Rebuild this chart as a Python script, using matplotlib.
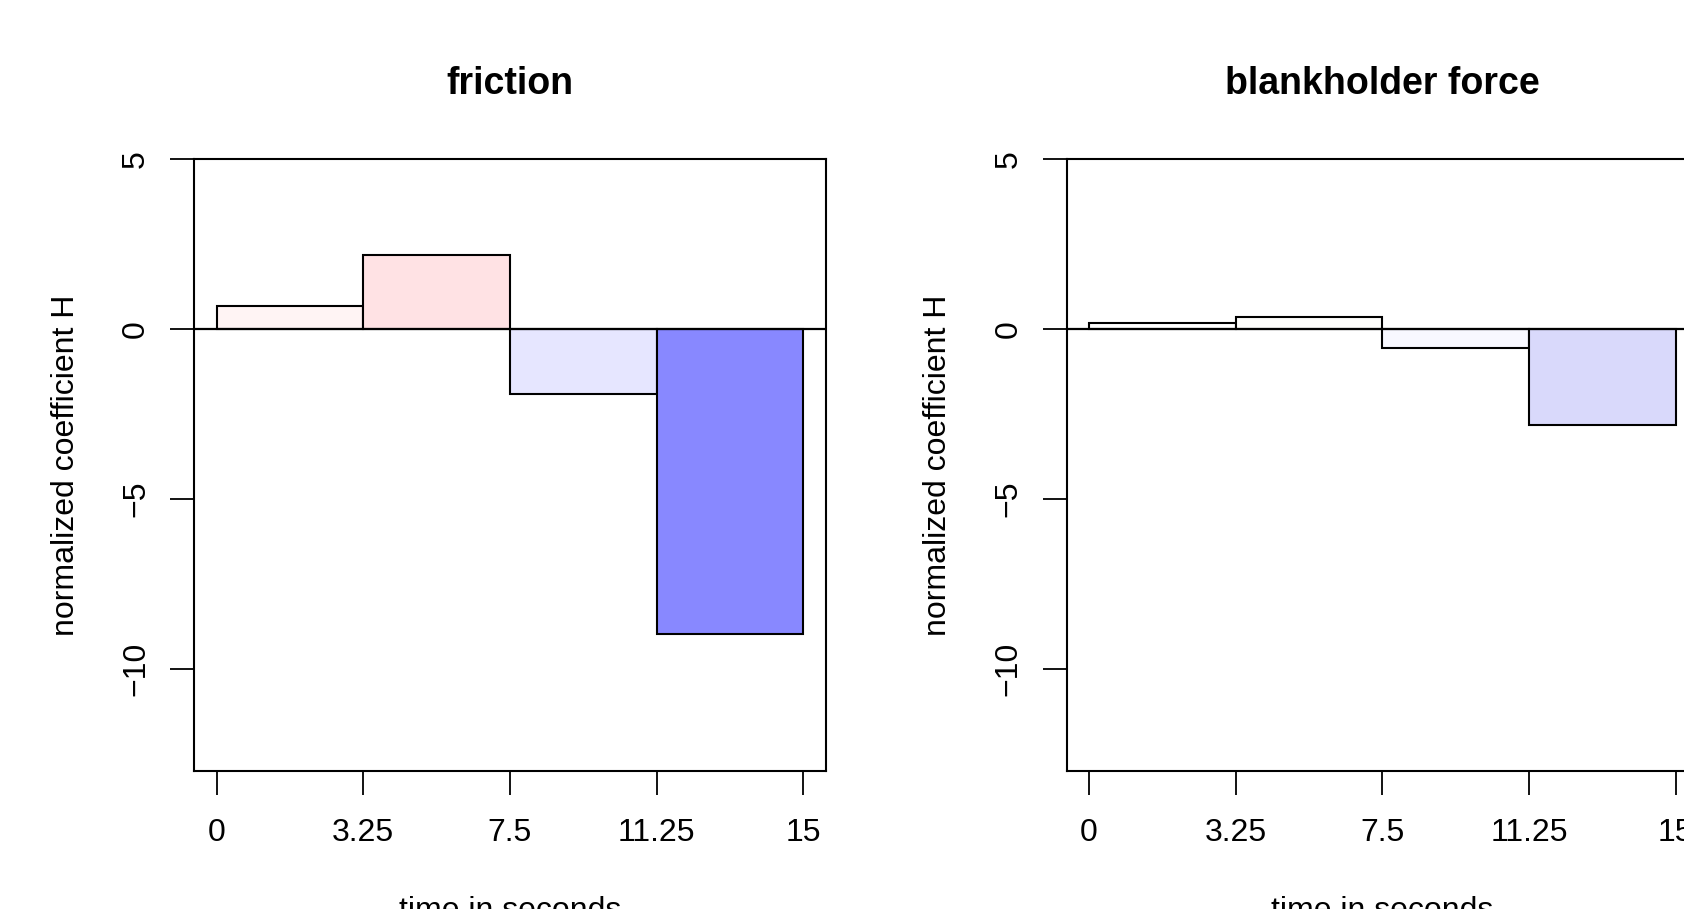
import matplotlib
matplotlib.use("Agg")
import matplotlib.pyplot as plt

plt.rcParams['font.family'] = ['Liberation Sans', 'DejaVu Sans']

# data
titles = ['friction', 'blankholder force']
bar_left = [0, 3.75, 7.5, 11.25]
bar_width = 3.75
friction = [0.68, 2.19, -1.90, -8.97]
blankholder = [0.17, 0.36, -0.56, -2.83]
friction_cols = ['#FFF4F4', '#FFE2E4', '#E6E6FF', '#8888FF']
blankholder_cols = ['#FFFFFF', '#FDFDFB', '#F8F8FF', '#D9D9FB']
xtick_pos = [0, 3.75, 7.5, 11.25, 15]
xtick_labels = ['0', '3.25', '7.5', '11.25', '15']
ytick_pos = [5, 0, -5, -10]
ytick_labels = ['5', '0', '\u22125', '\u221210']

fig = plt.figure(figsize=(16.84, 9.09), dpi=100)
W = 632 / 1684
H = (771 - 159) / 909
bottom = 1 - 771 / 909
ax1 = fig.add_axes([194 / 1684, bottom, W, H])
ax2 = fig.add_axes([1066.5 / 1684, bottom, W, H])

for ax, title, vals, cols in [(ax1, titles[0], friction, friction_cols),
                              (ax2, titles[1], blankholder, blankholder_cols)]:
    ax.bar(bar_left, vals, width=bar_width, align='edge', color=cols,
           edgecolor='black', linewidth=1.5, zorder=2)
    ax.axhline(0, color='black', linewidth=1.6, zorder=3)
    ax.set_xlim(-0.577, 15.58)
    ax.set_ylim(-13, 5)
    ax.set_xticks(xtick_pos)
    ax.set_xticklabels(xtick_labels)
    ax.set_yticks(ytick_pos)
    ax.set_yticklabels(ytick_labels, rotation=90, va='center')
    ax.tick_params(axis='both', direction='out', length=17, width=1.3,
                   labelsize=23)
    ax.tick_params(axis='x', pad=16.5)
    ax.tick_params(axis='y', pad=14)
    for s in ax.spines.values():
        s.set_linewidth(1.5)
    ax.set_ylabel('normalized coefficient H', fontsize=23, labelpad=29)
    ax.text(0.5, -0.205, 'time in seconds', transform=ax.transAxes,
            ha='center', va='top', fontsize=23)
    ax.set_title(title, fontsize=27, fontweight='bold', pad=46.5)

fig.savefig('out.png', dpi=100)
